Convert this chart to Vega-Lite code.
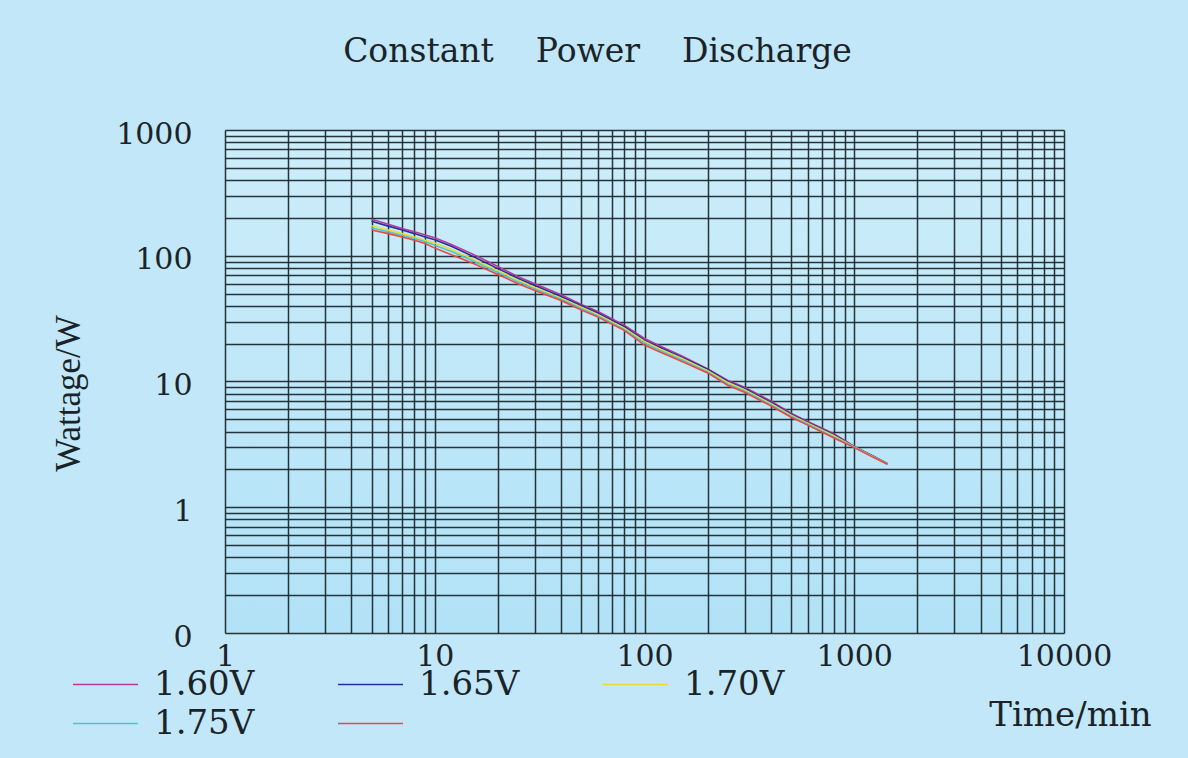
{
  "$schema": "https://vega.github.io/schema/vega-lite/v6.json",
  "width": 839,
  "height": 503,
  "autosize": {"type": "none"},
  "padding": {"left": 225, "top": 130, "right": 124, "bottom": 125},
  "background": "#c2e7f8",
  "title": {
    "text": "Constant\u00a0\u00a0\u00a0\u00a0Power\u00a0\u00a0\u00a0\u00a0Discharge",
    "font": "DejaVu Serif",
    "fontSize": 33,
    "fontWeight": "normal",
    "color": "#1a2428",
    "anchor": "middle",
    "frame": "group",
    "dx": -47,
    "offset": 24,
    "baseline": "alphabetic"
  },
  "config": {
    "view": {"stroke": null, "fill": {"x1": 0, "y1": 0, "x2": 0, "y2": 1, "gradient": "linear", "stops": [{"offset": 0, "color": "#cdedfa"}, {"offset": 1, "color": "#b2e2f7"}]}},
    "axis": {
      "domain": false,
      "ticks": false,
      "grid": true,
      "gridColor": "#1c2a30",
      "gridWidth": 1.5,
      "gridOpacity": 0.95,
      "labelFont": "DejaVu Serif",
      "labelFontSize": 30,
      "labelColor": "#1a2428",
      "labelOverlap": false,
      "labelFlush": false,
      "titleFont": "DejaVu Serif",
      "titleFontWeight": "normal",
      "titleColor": "#1a2428"
    }
  },
  "data": {
    "values": [
      {"t": 5, "w": 195, "s": "1.60V"}, {"t": 6, "w": 178, "s": "1.60V"}, {"t": 7, "w": 165, "s": "1.60V"}, {"t": 8, "w": 155, "s": "1.60V"}, {"t": 9, "w": 146, "s": "1.60V"}, {"t": 10, "w": 139, "s": "1.60V"}, {"t": 12, "w": 123, "s": "1.60V"}, {"t": 15, "w": 104, "s": "1.60V"}, {"t": 20, "w": 82, "s": "1.60V"}, {"t": 25, "w": 68, "s": "1.60V"}, {"t": 30, "w": 60, "s": "1.60V"}, {"t": 40, "w": 49, "s": "1.60V"}, {"t": 50, "w": 41, "s": "1.60V"}, {"t": 60, "w": 36, "s": "1.60V"}, {"t": 80, "w": 28, "s": "1.60V"}, {"t": 100, "w": 22, "s": "1.60V"}, {"t": 120, "w": 19, "s": "1.60V"}, {"t": 150, "w": 16, "s": "1.60V"}, {"t": 200, "w": 12.6, "s": "1.60V"}, {"t": 250, "w": 10.2, "s": "1.60V"}, {"t": 300, "w": 9.0, "s": "1.60V"}, {"t": 400, "w": 7.0, "s": "1.60V"}, {"t": 500, "w": 5.6, "s": "1.60V"}, {"t": 600, "w": 4.8, "s": "1.60V"}, {"t": 800, "w": 3.85, "s": "1.60V"}, {"t": 1000, "w": 3.05, "s": "1.60V"}, {"t": 1200, "w": 2.6, "s": "1.60V"}, {"t": 1440, "w": 2.22, "s": "1.60V"},
      {"t": 5, "w": 188, "s": "1.65V"}, {"t": 6, "w": 172, "s": "1.65V"}, {"t": 7, "w": 160, "s": "1.65V"}, {"t": 8, "w": 150, "s": "1.65V"}, {"t": 9, "w": 141, "s": "1.65V"}, {"t": 10, "w": 134, "s": "1.65V"}, {"t": 12, "w": 119, "s": "1.65V"}, {"t": 15, "w": 100, "s": "1.65V"}, {"t": 20, "w": 79, "s": "1.65V"}, {"t": 25, "w": 66, "s": "1.65V"}, {"t": 30, "w": 58, "s": "1.65V"}, {"t": 40, "w": 47.5, "s": "1.65V"}, {"t": 50, "w": 40, "s": "1.65V"}, {"t": 60, "w": 35, "s": "1.65V"}, {"t": 80, "w": 27.3, "s": "1.65V"}, {"t": 100, "w": 21.3, "s": "1.65V"}, {"t": 120, "w": 18.5, "s": "1.65V"}, {"t": 150, "w": 15.6, "s": "1.65V"}, {"t": 200, "w": 12.5, "s": "1.65V"}, {"t": 250, "w": 10.0, "s": "1.65V"}, {"t": 300, "w": 8.8, "s": "1.65V"}, {"t": 400, "w": 6.85, "s": "1.65V"}, {"t": 500, "w": 5.5, "s": "1.65V"}, {"t": 600, "w": 4.72, "s": "1.65V"}, {"t": 800, "w": 3.78, "s": "1.65V"}, {"t": 1000, "w": 3.03, "s": "1.65V"}, {"t": 1200, "w": 2.6, "s": "1.65V"}, {"t": 1440, "w": 2.22, "s": "1.65V"},
      {"t": 5, "w": 173, "s": "1.70V"}, {"t": 6, "w": 160, "s": "1.70V"}, {"t": 7, "w": 150, "s": "1.70V"}, {"t": 8, "w": 141, "s": "1.70V"}, {"t": 9, "w": 133, "s": "1.70V"}, {"t": 10, "w": 126, "s": "1.70V"}, {"t": 12, "w": 112, "s": "1.70V"}, {"t": 15, "w": 95, "s": "1.70V"}, {"t": 20, "w": 76, "s": "1.70V"}, {"t": 25, "w": 64, "s": "1.70V"}, {"t": 30, "w": 56, "s": "1.70V"}, {"t": 40, "w": 46, "s": "1.70V"}, {"t": 50, "w": 39, "s": "1.70V"}, {"t": 60, "w": 34, "s": "1.70V"}, {"t": 80, "w": 26.6, "s": "1.70V"}, {"t": 100, "w": 20.8, "s": "1.70V"}, {"t": 120, "w": 18, "s": "1.70V"}, {"t": 150, "w": 15.3, "s": "1.70V"}, {"t": 200, "w": 12.2, "s": "1.70V"}, {"t": 250, "w": 9.8, "s": "1.70V"}, {"t": 300, "w": 8.6, "s": "1.70V"}, {"t": 400, "w": 6.7, "s": "1.70V"}, {"t": 500, "w": 5.4, "s": "1.70V"}, {"t": 600, "w": 4.65, "s": "1.70V"}, {"t": 800, "w": 3.7, "s": "1.70V"}, {"t": 1000, "w": 3.02, "s": "1.70V"}, {"t": 1200, "w": 2.58, "s": "1.70V"}, {"t": 1440, "w": 2.21, "s": "1.70V"},
      {"t": 5, "w": 166, "s": "1.75V"}, {"t": 6, "w": 155, "s": "1.75V"}, {"t": 7, "w": 145, "s": "1.75V"}, {"t": 8, "w": 137, "s": "1.75V"}, {"t": 9, "w": 129, "s": "1.75V"}, {"t": 10, "w": 121, "s": "1.75V"}, {"t": 12, "w": 108, "s": "1.75V"}, {"t": 15, "w": 92, "s": "1.75V"}, {"t": 20, "w": 73.5, "s": "1.75V"}, {"t": 25, "w": 62, "s": "1.75V"}, {"t": 30, "w": 54.5, "s": "1.75V"}, {"t": 40, "w": 45, "s": "1.75V"}, {"t": 50, "w": 38, "s": "1.75V"}, {"t": 60, "w": 33.2, "s": "1.75V"}, {"t": 80, "w": 26, "s": "1.75V"}, {"t": 100, "w": 20.2, "s": "1.75V"}, {"t": 120, "w": 17.5, "s": "1.75V"}, {"t": 150, "w": 14.9, "s": "1.75V"}, {"t": 200, "w": 11.9, "s": "1.75V"}, {"t": 250, "w": 9.5, "s": "1.75V"}, {"t": 300, "w": 8.4, "s": "1.75V"}, {"t": 400, "w": 6.55, "s": "1.75V"}, {"t": 500, "w": 5.3, "s": "1.75V"}, {"t": 600, "w": 4.58, "s": "1.75V"}, {"t": 800, "w": 3.62, "s": "1.75V"}, {"t": 1000, "w": 3.0, "s": "1.75V"}, {"t": 1200, "w": 2.56, "s": "1.75V"}, {"t": 1440, "w": 2.2, "s": "1.75V"},
      {"t": 5, "w": 160, "s": "1.80V"}, {"t": 6, "w": 150, "s": "1.80V"}, {"t": 7, "w": 141, "s": "1.80V"}, {"t": 8, "w": 133, "s": "1.80V"}, {"t": 9, "w": 125, "s": "1.80V"}, {"t": 10, "w": 115, "s": "1.80V"}, {"t": 12, "w": 102, "s": "1.80V"}, {"t": 15, "w": 88, "s": "1.80V"}, {"t": 20, "w": 71, "s": "1.80V"}, {"t": 25, "w": 60, "s": "1.80V"}, {"t": 30, "w": 53, "s": "1.80V"}, {"t": 40, "w": 44, "s": "1.80V"}, {"t": 50, "w": 37, "s": "1.80V"}, {"t": 60, "w": 32.5, "s": "1.80V"}, {"t": 80, "w": 25.5, "s": "1.80V"}, {"t": 100, "w": 19.5, "s": "1.80V"}, {"t": 120, "w": 17, "s": "1.80V"}, {"t": 150, "w": 14.5, "s": "1.80V"}, {"t": 200, "w": 11.7, "s": "1.80V"}, {"t": 250, "w": 9.3, "s": "1.80V"}, {"t": 300, "w": 8.2, "s": "1.80V"}, {"t": 400, "w": 6.4, "s": "1.80V"}, {"t": 500, "w": 5.2, "s": "1.80V"}, {"t": 600, "w": 4.5, "s": "1.80V"}, {"t": 800, "w": 3.55, "s": "1.80V"}, {"t": 1000, "w": 2.98, "s": "1.80V"}, {"t": 1200, "w": 2.55, "s": "1.80V"}, {"t": 1440, "w": 2.2, "s": "1.80V"}
    ]
  },
  "mark": {"type": "line", "strokeWidth": 1.6, "clip": true},
  "encoding": {
    "x": {
      "field": "t",
      "type": "quantitative",
      "scale": {"type": "log", "domain": [1, 10000], "nice": false},
      "axis": {
        "values": [1,2,3,4,5,6,7,8,9,10,20,30,40,50,60,70,80,90,100,200,300,400,500,600,700,800,900,1000,2000,3000,4000,5000,6000,7000,8000,9000,10000],
        "format": "~g",
        "labelExpr": "indexof(['1','10','100','1000','10000'], datum.label) >= 0 ? datum.label : ''",
        "labelPadding": 8,
        "labelBaseline": "top",
        "title": "Time/min",
        "titleFontSize": 34,
        "titleX": 845,
        "titleY": 92,
        "titleAlign": "center",
        "titleBaseline": "alphabetic",
        "titleAnchor": null
      }
    },
    "y": {
      "field": "w",
      "type": "quantitative",
      "scale": {"type": "log", "domain": [0.1, 1000], "nice": false},
      "axis": {
        "values": [0.1,0.2,0.3,0.4,0.5,0.6,0.7,0.8,0.9,1,2,3,4,5,6,7,8,9,10,20,30,40,50,60,70,80,90,100,200,300,400,500,600,700,800,900,1000],
        "format": "~g",
        "labelExpr": "datum.value == 0.1 ? '0' : (indexof(['1','10','100','1000'], datum.label) >= 0 ? datum.label : '')",
        "labelPadding": 33,
        "labelOffset": 4,
        "labelBaseline": "middle",
        "title": "Wattage/W",
        "titleFont": "Liberation Serif",
        "titleFontSize": 35,
        "titleAngle": 270,
        "titleX": -146,
        "titleY": 263,
        "titleAlign": "center",
        "titleBaseline": "alphabetic",
        "titleAnchor": null
      }
    },
    "color": {
      "field": "s",
      "type": "nominal",
      "scale": {"domain": ["1.60V", "1.65V", "1.70V", "1.75V", "1.80V"], "range": ["#b8389c", "#2a2f9c", "#e8dc30", "#4cc6cc", "#ee4646"]},
      "legend": {
        "title": null,
        "orient": "none",
        "legendX": -153,
        "legendY": 535,
        "direction": "horizontal",
        "columns": 3,
        "symbolType": "stroke",
        "symbolSize": 4225,
        "symbolStrokeWidth": 1.5,
        "labelFont": "DejaVu Serif",
        "labelFontSize": 34,
        "labelColor": "#1a2428",
        "labelOffset": 15,
        "labelLimit": 0,
        "columnPadding": 82,
        "rowPadding": 0,
        "clipHeight": 39,
        "labelExpr": "datum.label == '1.80V' ? '' : datum.label"
      }
    }
  }
}
